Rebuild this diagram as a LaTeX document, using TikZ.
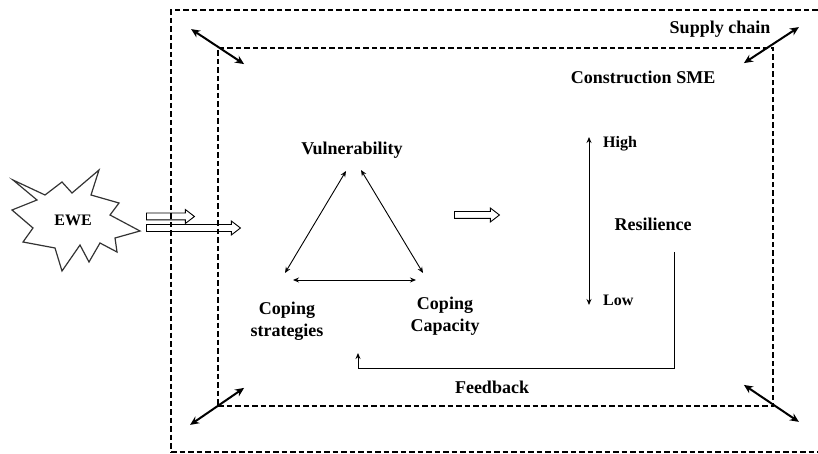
\documentclass[tikz,border=0pt]{standalone}
\usepackage{fontspec}
\setmainfont{Liberation Serif}
\usetikzlibrary{arrows.meta, shapes.arrows, positioning}

\tikzset{
  lbl/.style={font=\fontsize{18}{22}\selectfont\bfseries, align=center, inner sep=1pt},
  small/.style={font=\fontsize{16}{19}\selectfont\bfseries, inner sep=1pt},
  boundary/.style={draw, line width=1.8pt, dash pattern=on 5.5pt off 3pt, inner sep=0pt},
  link/.style={line width=2pt, {Stealth[length=9pt,width=8pt]}-{Stealth[length=9pt,width=8pt]}},
  rel/.style={line width=0.9pt, {Stealth[length=6pt,width=5pt]}-{Stealth[length=6pt,width=5pt]}},
  hollow/.style={single arrow, draw, line width=0.9pt, inner sep=3pt, single arrow head extend=3.5pt, single arrow tip angle=75, anchor=tail}
}

\begin{document}
\begin{tikzpicture}[x=1pt, y=-1pt]
\useasboundingbox (0,0) rectangle (818,454);
\clip (0,0) rectangle (818,454);

% Boundaries
\node[boundary, minimum width=659pt, minimum height=442pt] (chain) at (500.5,231) {};
\node[boundary, minimum width=555pt, minimum height=358pt] (sme) at (495.5,227) {};
\node[lbl] (chainlbl) at (720,29) {Supply chain};
\node[lbl] (smelbl) at (643,77) {Construction SME};

% Links across the boundary
\draw[link] ([shift={(-26,-18)}]sme.north west) -- ([shift={(27,17)}]sme.north west);
\draw[link] ([shift={(25,-20)}]sme.north east) -- ([shift={(-30,16)}]sme.north east);
\draw[link] ([shift={(-30,-22)}]sme.south east) -- ([shift={(25,15)}]sme.south east);
\draw[link] ([shift={(27,-19)}]sme.south west) -- ([shift={(-27,18)}]sme.south west);

% Event
\draw[line width=1.2pt, black!80] (13,180) -- (45,195) -- (62,182) -- (72,193) -- (99,170) -- (91,195)
  -- (119,203) -- (110,215) -- (140,231) -- (115,238) -- (117,252) -- (100,243) -- (89,262)
  -- (80,245) -- (62,271) -- (55,248) -- (23,242) -- (33,228) -- (12,210) -- (37,200) -- cycle;
\node[small] (ewe) at (73,220) {EWE};
\node[hollow, minimum height=48pt] (arrA) at (146,216.5) {};
\node[hollow, minimum height=94pt] (arrB) at (146,228) {};

% Triangle
\node[lbl] (vul) at (352,150) {Vulnerability};
\node[lbl] (strat) at (287,321) {Coping\\strategies};
\node[lbl] (cap) at (445,316) {Coping\\Capacity};
\coordinate (va) at (346,171);
\coordinate (vb) at (361,170);
\coordinate (sa) at (285,273);
\coordinate (sb) at (293,280);
\coordinate (ca) at (423,273);
\coordinate (cb) at (416,280);
\draw[rel] (va) -- (sa);
\draw[rel] (vb) -- (ca);
\draw[rel] (sb) -- (cb);

\node[hollow, minimum height=45pt] (arrC) at (454,215) {};

% Resilience scale
\node[small, anchor=west] (high) at (602,144) {High};
\node[small, anchor=west] (low) at (602,300) {Low};
\coordinate (hi) at (589,137);
\coordinate (lo) at (589,305);
\draw[rel] (hi) -- (lo);
\node[lbl] (res) at (653,224) {Resilience};

% Feedback
\coordinate (fbstart) at (674,252);
\coordinate (fbend) at (358,353);
\draw[line width=0.9pt, -{Stealth[length=6pt,width=5pt]}] (fbstart) -- (674,368) -| (fbend);
\node[lbl] (fb) at (492,387) {Feedback};
\end{tikzpicture}
\end{document}
